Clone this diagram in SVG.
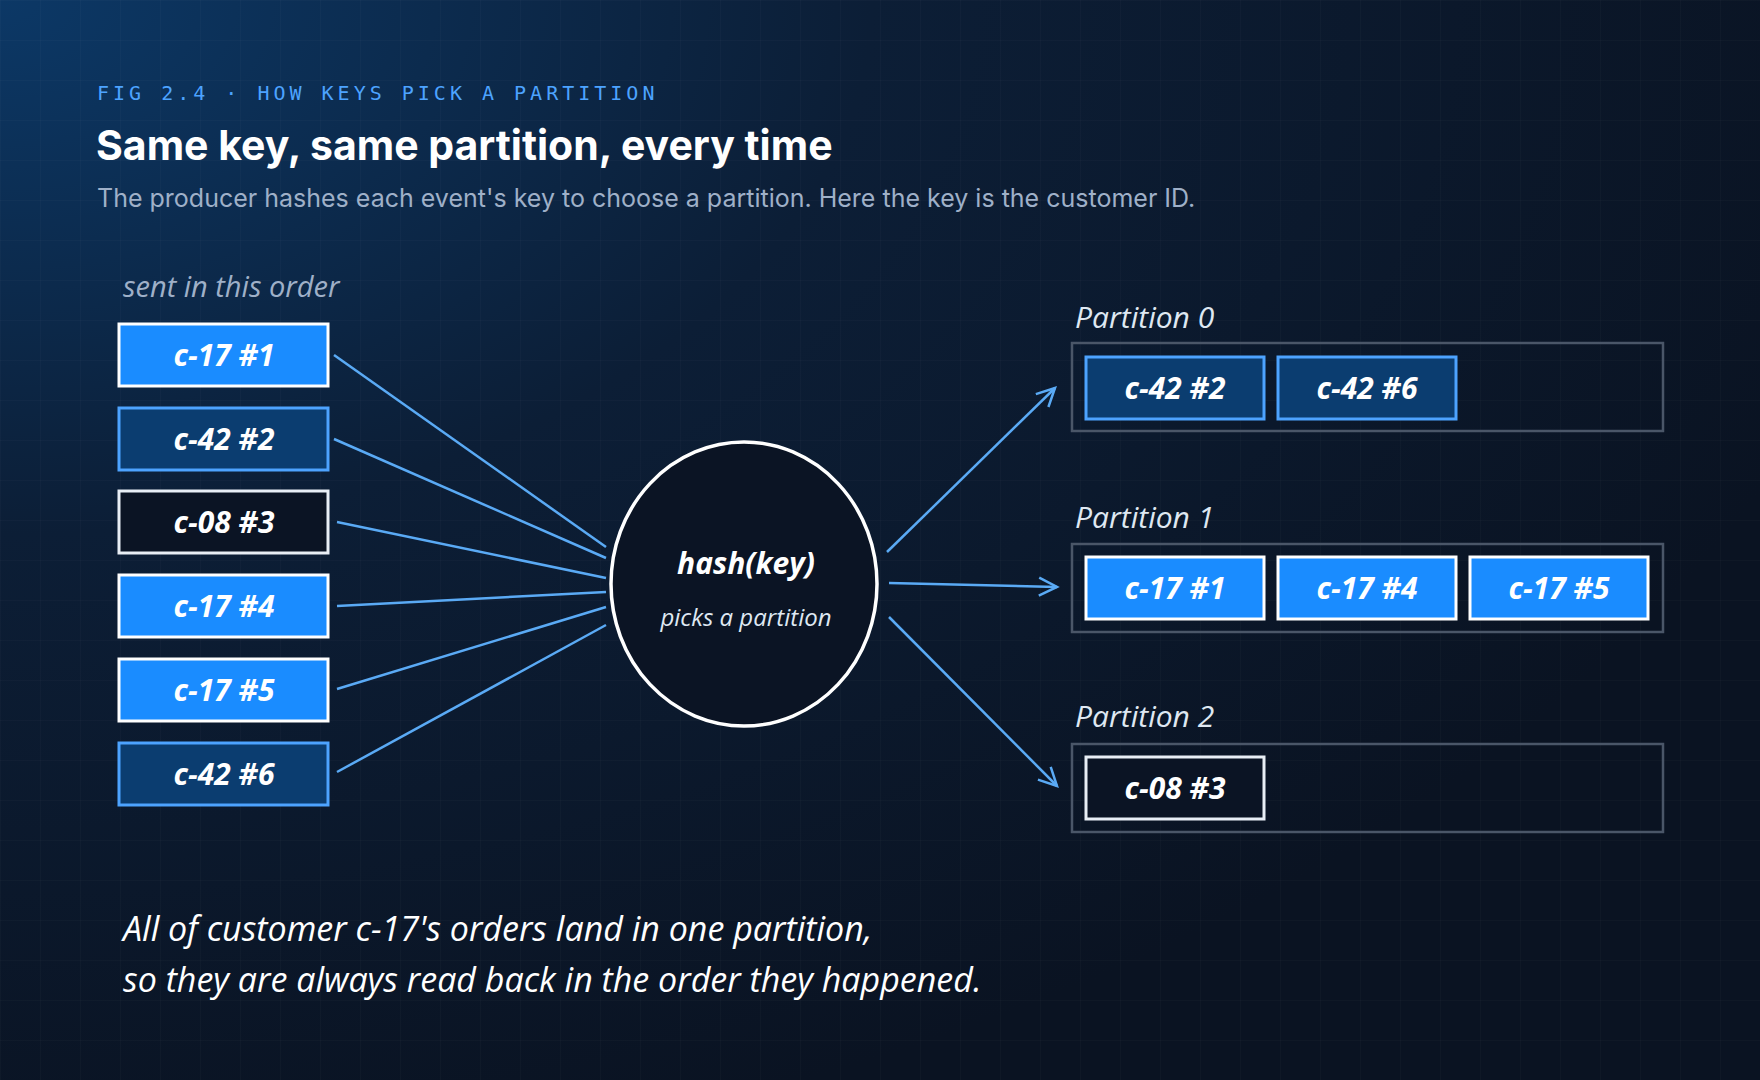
<svg xmlns="http://www.w3.org/2000/svg" width="1760" height="1080" viewBox="0 0 1760 1080">
<defs>
<radialGradient id="bg" cx="0" cy="0" r="1.1">
<stop offset="0" stop-color="#0c3866"/><stop offset="0.45" stop-color="#0c1e36"/><stop offset="1" stop-color="#0a1322"/>
</radialGradient>
<pattern id="grid" width="40" height="40" patternUnits="userSpaceOnUse">
<path d="M40 0H0V40" fill="none" stroke="#ffffff" stroke-opacity="0.04" stroke-width="1"/>
</pattern>
<marker id="ahb" viewBox="0 0 24 24" refX="21" refY="12" markerWidth="24" markerHeight="24" markerUnits="userSpaceOnUse" orient="auto">
<path d="M3 3L21 12L3 21" fill="none" stroke="#5aaaf5" stroke-width="2.5"/>
</marker>
</defs>
<style>
.hand{font-family:"Open Sans","Noto Sans",sans-serif;font-style:italic}
.bright rect{fill:#1a8cff;stroke:#ffffff;stroke-width:3}
.dark rect{fill:#0b3d70;stroke:#4da3ff;stroke-width:3}
.out rect{fill:#0b1424;stroke:#e8eef5;stroke-width:3}
.lbl{font-family:"Open Sans","Noto Sans",sans-serif;font-style:italic;font-weight:700;font-size:30px;fill:#ffffff;text-anchor:middle}
.part{fill:none;stroke:#4a5668;stroke-width:2.5}
.plabel{font-family:"Open Sans",sans-serif;font-style:italic;font-size:30px;fill:#dfe8f2}
.conn line{stroke:#5aaaf5;stroke-width:2.5}
</style>
<rect width="1760" height="1080" fill="url(#bg)"/>
<rect width="1760" height="1080" fill="url(#grid)"/>
<text x="97" y="100" font-family="'DejaVu Sans Mono',monospace" font-size="20" letter-spacing="4" fill="#4da3ff">FIG 2.4 · HOW KEYS PICK A PARTITION</text>
<text x="96" y="160" font-family="Inter,sans-serif" font-weight="700" font-size="41" fill="#ffffff">Same key, same partition, every time</text>
<text x="97" y="207" font-family="Inter,sans-serif" font-size="25" fill="#9fb0c8">The producer hashes each event's key to choose a partition. Here the key is the customer ID.</text>
<text class="hand" x="123" y="297" font-size="29" fill="#9fb0c8">sent in this order</text>
<g class="conn">
<line x1="334" y1="355" x2="606" y2="547"/>
<line x1="334" y1="439" x2="606" y2="558"/>
<line x1="337" y1="522" x2="606" y2="578"/>
<line x1="337" y1="606" x2="606" y2="592"/>
<line x1="337" y1="689" x2="606" y2="607"/>
<line x1="337" y1="772" x2="606" y2="625"/>
<line x1="887" y1="552" x2="1055" y2="388" marker-end="url(#ahb)"/>
<line x1="889" y1="583" x2="1057" y2="587" marker-end="url(#ahb)"/>
<line x1="889" y1="617" x2="1057" y2="786" marker-end="url(#ahb)"/>
</g>
<g id="in1" class="bright"><rect x="119" y="324" width="209" height="62"/><text class="lbl" x="224" y="366">c-17 #1</text></g>
<g id="in2" class="dark"><rect x="119" y="408" width="209" height="62"/><text class="lbl" x="224" y="450">c-42 #2</text></g>
<g id="in3" class="out"><rect x="119" y="491" width="209" height="62"/><text class="lbl" x="224" y="533">c-08 #3</text></g>
<g id="in4" class="bright"><rect x="119" y="575" width="209" height="62"/><text class="lbl" x="224" y="617">c-17 #4</text></g>
<g id="in5" class="bright"><rect x="119" y="659" width="209" height="62"/><text class="lbl" x="224" y="701">c-17 #5</text></g>
<g id="in6" class="dark"><rect x="119" y="743" width="209" height="62"/><text class="lbl" x="224" y="785">c-42 #6</text></g>
<g id="hash">
<ellipse cx="744" cy="584" rx="133" ry="142" fill="#0b1424" stroke="#ffffff" stroke-width="3.5"/>
<text x="746" y="574" class="lbl" font-size="42">hash(key)</text>
<text x="746" y="626" class="hand" font-size="24" fill="#dfe8f2" text-anchor="middle">picks a partition</text>
</g>
<g id="p0">
<text class="plabel" x="1075" y="328">Partition 0</text>
<rect class="part" x="1072" y="343" width="591" height="88"/>
<g class="dark"><rect x="1086" y="357" width="178" height="62"/><text class="lbl" x="1175" y="399">c-42 #2</text></g>
<g class="dark"><rect x="1278" y="357" width="178" height="62"/><text class="lbl" x="1367" y="399">c-42 #6</text></g>
</g>
<g id="p1">
<text class="plabel" x="1075" y="528">Partition 1</text>
<rect class="part" x="1072" y="544" width="591" height="88"/>
<g class="bright"><rect x="1086" y="557" width="178" height="62"/><text class="lbl" x="1175" y="599">c-17 #1</text></g>
<g class="bright"><rect x="1278" y="557" width="178" height="62"/><text class="lbl" x="1367" y="599">c-17 #4</text></g>
<g class="bright"><rect x="1470" y="557" width="178" height="62"/><text class="lbl" x="1559" y="599">c-17 #5</text></g>
</g>
<g id="p2">
<text class="plabel" x="1075" y="727">Partition 2</text>
<rect class="part" x="1072" y="744" width="591" height="88"/>
<g class="out"><rect x="1086" y="757" width="178" height="62"/><text class="lbl" x="1175" y="799">c-08 #3</text></g>
</g>
<g id="note" class="hand" font-size="34" fill="#ffffff">
<text x="123" y="941">All of customer c-17's orders land in one partition,</text>
<text x="123" y="992">so they are always read back in the order they happened.</text>
</g>
</svg>
